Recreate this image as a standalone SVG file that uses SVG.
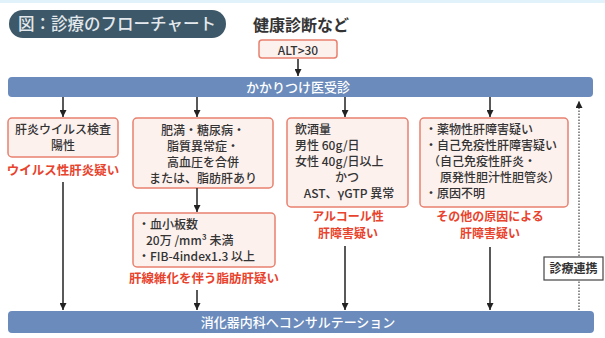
<svg xmlns="http://www.w3.org/2000/svg" width="605" height="338" viewBox="0 0 605 338">
<defs>
<style>
text{font-family:"Noto Sans CJK JP","Noto Sans",sans-serif;}
.box{fill:#fdf1ee;stroke:#e8806f;stroke-width:1.5;}
.bar{fill:#6a8bbb;}
.bt{fill:#ffffff;font-size:13px;font-weight:500;text-anchor:middle;}
.t{fill:#333333;font-size:12px;font-weight:500;}
.c{text-anchor:middle;}
.red{fill:#e8432d;font-size:12.5px;font-weight:700;text-anchor:middle;}
.red2{font-size:12px;}
.ln{stroke:#222222;stroke-width:1.5;fill:none;}
</style>
<marker id="ah" viewBox="0 0 10 10" refX="10" refY="5" markerWidth="7" markerHeight="7" markerUnits="userSpaceOnUse" orient="auto">
<path d="M0,0 L10,5 L0,10 z" fill="#222222"/>
</marker>
</defs>
<rect x="0" y="0" width="605" height="338" fill="#ffffff"/>
<rect x="0" y="0" width="605" height="3" fill="#e2f2fb"/>
<g id="title">
<rect x="9" y="10" width="217" height="28" rx="14" fill="#3d5868"/>
<text x="117" y="30" fill="#e2e8ec" font-size="16.5" font-weight="500" text-anchor="middle">図：診療のフローチャート</text>
</g>
<g id="kenshin">
<text x="301" y="31" fill="#333333" font-size="16" font-weight="700" text-anchor="middle">健康診断など</text>
</g>
<g id="alt">
<rect class="box" x="259" y="40" width="78" height="18" rx="3"/>
<text class="t c" x="298" y="54.5" font-size="14">ALT&gt;30</text>
</g>
<g id="kakaritsuke">
<rect class="bar" x="8" y="77" width="585" height="20" rx="4"/>
<text class="bt" x="298" y="91.5">かかりつけ医受診</text>
</g>
<g id="virus">
<rect class="box" x="8" y="118" width="110" height="39" rx="4"/>
<text class="t c" x="63" y="134"><tspan x="63">肝炎ウイルス検査</tspan><tspan x="63" dy="16">陽性</tspan></text>
<text class="red" x="63" y="175">ウイルス性肝炎疑い</text>
</g>
<g id="metabolic">
<rect class="box" x="133" y="118" width="140" height="70" rx="4"/>
<text class="t c" x="203" y="135"><tspan x="203">肥満・糖尿病・</tspan><tspan x="203" dy="16">脂質異常症・</tspan><tspan x="203" dy="16">高血圧を合併</tspan><tspan x="203" dy="16">または、脂肪肝あり</tspan></text>
</g>
<g id="fibrosis">
<rect class="box" x="133" y="213" width="142" height="54" rx="4"/>
<text class="t" x="138" y="229"><tspan x="138">・血小板数</tspan><tspan x="146" dy="16">20万 /mm³ 未満</tspan><tspan x="138" dy="16">・FIB-4index1.3 以上</tspan></text>
<text class="red" x="204" y="283">肝線維化を伴う脂肪肝疑い</text>
</g>
<g id="alcohol">
<rect class="box" x="287" y="118" width="121" height="89" rx="4"/>
<text class="t" x="295" y="134"><tspan x="295">飲酒量</tspan><tspan x="295" dy="16">男性 60g/日</tspan><tspan x="295" dy="16">女性 40g/日以上</tspan><tspan x="347" dy="16" text-anchor="middle">かつ</tspan><tspan x="349" dy="16" text-anchor="middle">AST、γGTP 異常</tspan></text>
<text class="red red2" x="348" y="221"><tspan x="348">アルコール性</tspan><tspan x="348" dy="17">肝障害疑い</tspan></text>
</g>
<g id="other">
<rect class="box" x="420" y="118" width="148" height="89" rx="4"/>
<text class="t" x="425" y="134"><tspan x="425">・薬物性肝障害疑い</tspan><tspan x="425" dy="16">・自己免疫性肝障害疑い</tspan><tspan x="428" dy="16">（自己免疫性肝炎・</tspan><tspan x="440" dy="16">原発性胆汁性胆管炎）</tspan><tspan x="425" dy="16">・原因不明</tspan></text>
<text class="red red2" x="490" y="221"><tspan x="490">その他の原因による</tspan><tspan x="490" dy="17">肝障害疑い</tspan></text>
</g>
<g id="connectors">
<line class="ln" x1="298" y1="59" x2="298" y2="76" marker-end="url(#ah)"/>
<line class="ln" x1="63" y1="97" x2="63" y2="117" marker-end="url(#ah)"/>
<line class="ln" x1="197" y1="97" x2="197" y2="117" marker-end="url(#ah)"/>
<line class="ln" x1="345" y1="97" x2="345" y2="117" marker-end="url(#ah)"/>
<line class="ln" x1="490" y1="97" x2="490" y2="117" marker-end="url(#ah)"/>
<line class="ln" x1="63" y1="182" x2="63" y2="310" marker-end="url(#ah)"/>
<line class="ln" x1="197" y1="188" x2="197" y2="212" marker-end="url(#ah)"/>
<line class="ln" x1="197" y1="290" x2="197" y2="310" marker-end="url(#ah)"/>
<line class="ln" x1="345" y1="246" x2="345" y2="310" marker-end="url(#ah)"/>
<line class="ln" x1="490" y1="247" x2="490" y2="310" marker-end="url(#ah)"/>
<line x1="579" y1="310" x2="579" y2="101" stroke="#444444" stroke-width="1.2" stroke-dasharray="1.5,1.5" marker-end="url(#ah)"/>
</g>
<g id="renkei">
<rect x="544" y="257" width="59" height="23" fill="#ffffff" stroke="#444444" stroke-width="1.2"/>
<text x="573.5" y="273" fill="#333333" font-size="12" font-weight="700" text-anchor="middle">診療連携</text>
</g>
<g id="consult">
<rect class="bar" x="8" y="311" width="586" height="22" rx="4"/>
<text class="bt" x="298" y="326.5">消化器内科へコンサルテーション</text>
</g>
</svg>
